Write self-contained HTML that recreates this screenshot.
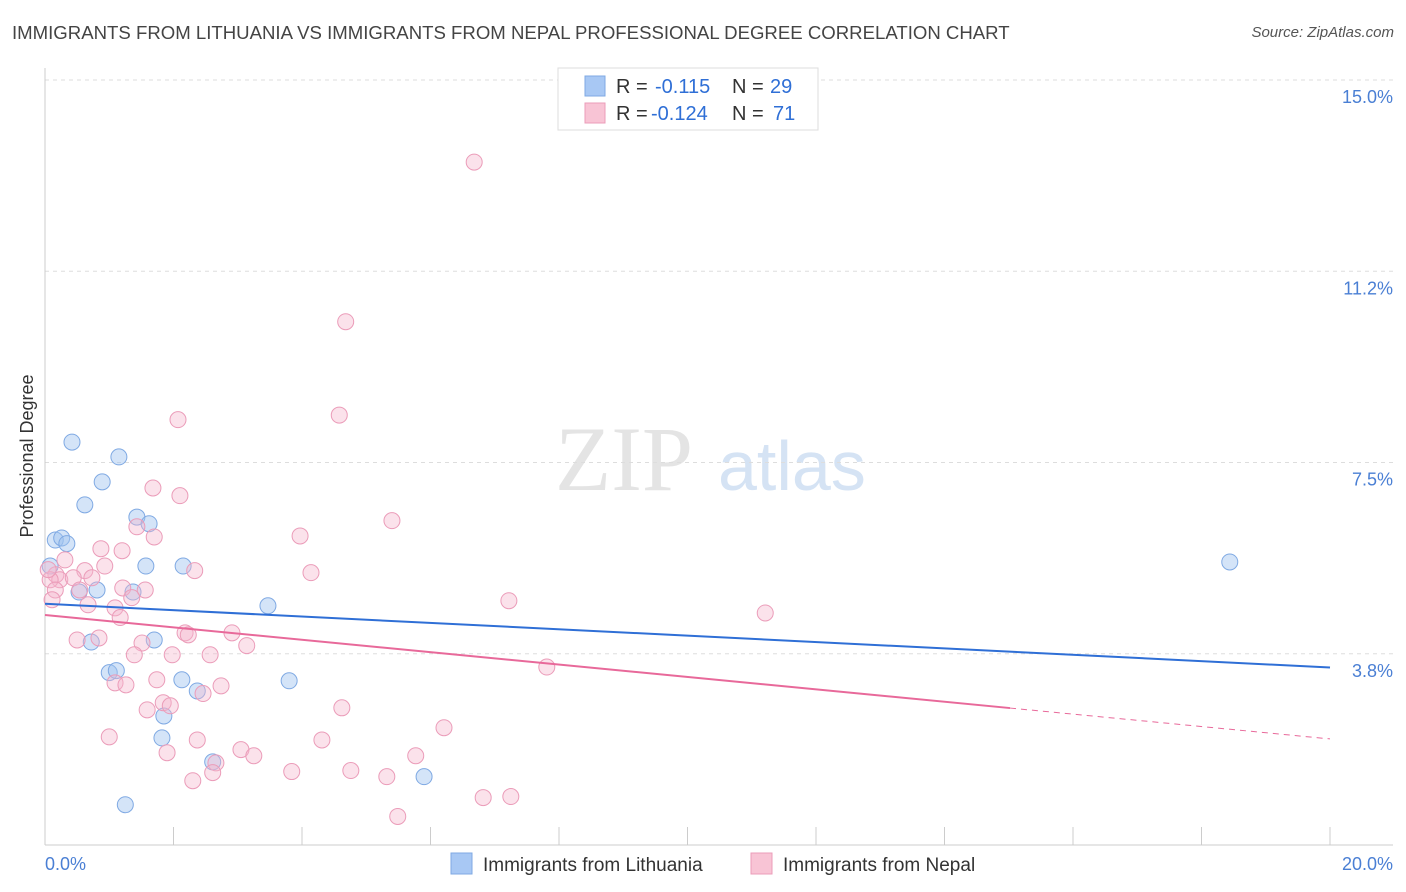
<!DOCTYPE html>
<html><head><meta charset="utf-8"><style>
body{margin:0;background:#fff;font-family:"Liberation Sans",sans-serif;}
#wrap{position:relative;width:1406px;height:892px;overflow:hidden;}
.title{position:absolute;left:12px;top:22px;font-size:18.6px;color:#444;}
.source{position:absolute;right:12px;top:24px;font-size:15px;color:#555;font-style:italic;}
</style></head><body>
<div id="wrap">
<div class="title">IMMIGRANTS FROM LITHUANIA VS IMMIGRANTS FROM NEPAL PROFESSIONAL DEGREE CORRELATION CHART</div>
<div class="source">Source: ZipAtlas.com</div>
<svg id="svg" width="1406" height="892" style="position:absolute;left:0;top:0"></svg>
</div>
<script>
const xTicks=[0,2,4,6,8,10,12,14,16,18,20];
const yTicks=[3.8,7.5,11.2,15.0];
const yTickVals=[3.75,7.5,11.25,15];
const blueX=[0.42,1.15,0.89,0.62,1.43,1.62,0.16,0.26,0.34,2.15,1.57,0.08,0.81,1.37,0.53,3.47,1.70,0.72,1.00,1.11,2.13,3.80,2.37,1.85,1.82,2.61,5.90,1.25,18.44];
const blueY=[7.90,7.61,7.12,6.67,6.43,6.30,5.98,6.02,5.91,5.47,5.47,5.47,5.00,4.96,4.96,4.69,4.02,3.98,3.38,3.42,3.24,3.22,3.02,2.53,2.10,1.63,1.34,0.79,5.55];
const pinkX=[6.68,4.68,2.07,4.58,1.68,2.10,5.40,3.97,1.43,1.70,1.20,0.87,0.31,0.93,2.33,0.62,0.17,0.23,0.08,0.44,0.73,4.14,1.21,1.56,0.16,0.54,1.35,7.22,11.21,0.67,1.09,1.17,2.18,2.23,2.91,0.50,0.84,1.51,3.14,1.98,2.57,1.39,7.81,1.74,1.09,1.26,2.74,2.46,1.84,1.95,1.59,4.62,6.21,1.00,2.37,4.31,1.90,3.05,3.25,5.77,2.66,2.61,3.84,4.76,5.32,2.30,6.82,7.25,5.49,0.05,0.11];
const pinkY=[13.39,10.26,8.34,8.43,7.00,6.85,6.36,6.06,6.24,6.04,5.77,5.81,5.59,5.47,5.38,5.38,5.30,5.20,5.20,5.24,5.24,5.34,5.04,5.00,5.00,5.00,4.85,4.79,4.55,4.71,4.65,4.46,4.16,4.12,4.16,4.02,4.06,3.96,3.91,3.73,3.73,3.73,3.49,3.24,3.18,3.14,3.12,2.97,2.79,2.73,2.65,2.69,2.30,2.12,2.06,2.06,1.81,1.87,1.75,1.75,1.61,1.42,1.44,1.46,1.34,1.26,0.93,0.95,0.56,5.40,4.81];
const blueTrend=[4.73,3.48];
const pinkTrend=[4.51,2.08];
const pinkSolidEnd=15.02;

const NS="http://www.w3.org/2000/svg";
const svg=document.getElementById('svg');
const X0=45,X1=1330,YT=80,YB=845;
const xs=v=>X0+v*(X1-X0)/20;
const ys=v=>YT+(15-v)*(YB-YT)/15;
function mk(t,a){const e=document.createElementNS(NS,t);for(const k in a)e.setAttribute(k,a[k]);svg.appendChild(e);return e;}

let w=mk('text',{x:555,y:490,'font-size':92,fill:'#e4e4e4','font-family':'Liberation Serif,serif'});w.textContent='ZIP';


let w2=mk('text',{x:718,y:490,'font-size':70,fill:'#d5e3f4','font-family':'Liberation Sans,sans-serif'});w2.textContent='atlas';



yTickVals.forEach((v,i)=>{
 const g=mk('line',{x1:X0,x2:1393,y1:ys(v),y2:ys(v),stroke:'#ddd','stroke-dasharray':'4,4'});
 
 
 const t=mk('text',{x:1393,y:ys(v)+23,'text-anchor':'end','font-size':18,fill:'#4a7fd4'});t.textContent=yTicks[i].toFixed(1)+'%';
 
 
});
let ax=mk('line',{x1:X0,x2:X0,y1:68,y2:YB,stroke:'#ccc'});


let bx=mk('line',{x1:X0,x2:1393,y1:YB,y2:YB,stroke:'#ccc'});


xTicks.forEach(v=>{
 const l=mk('line',{x1:xs(v),x2:xs(v),y1:YB,y2:YB-18,stroke:'#ccc'});
 
 
});
let xl=mk('text',{x:45,y:870,'font-size':18,fill:'#4a7fd4'});xl.textContent='0.0%';


let xr=mk('text',{x:1393,y:870,'text-anchor':'end','font-size':18,fill:'#4a7fd4'});xr.textContent='20.0%';


let yt=mk('text',{x:33,y:456,'font-size':18,fill:'#333','text-anchor':'middle',transform:'rotate(-90 33 456)'});yt.textContent='Professional Degree';



blueX.forEach((v,i)=>{
 const c=mk('circle',{cx:xs(v),cy:ys(blueY[i]),r:8,fill:'rgba(160,196,240,0.45)',stroke:'#7fa9e3','stroke-width':1});
 
 
});
pinkX.forEach((v,i)=>{
 const c=mk('circle',{cx:xs(v),cy:ys(pinkY[i]),r:8,fill:'rgba(244,182,204,0.4)',stroke:'#eb9cb9','stroke-width':1});
 
 
});
let bt=mk('line',{x1:xs(0),y1:ys(blueTrend[0]),x2:xs(20),y2:ys(blueTrend[1]),stroke:'#2f6fd6','stroke-width':2});


const pAt=v=>pinkTrend[0]+(pinkTrend[1]-pinkTrend[0])*v/20;
let pt=mk('line',{x1:xs(0),y1:ys(pinkTrend[0]),x2:xs(pinkSolidEnd),y2:ys(pAt(pinkSolidEnd)),stroke:'#e8699a','stroke-width':2});


let pd=mk('line',{x1:xs(pinkSolidEnd),y1:ys(pAt(pinkSolidEnd)),x2:xs(20),y2:ys(pinkTrend[1]),stroke:'#e8699a','stroke-width':1,'stroke-dasharray':'6,5'});



let lb=mk('rect',{x:558,y:68,width:260,height:62,fill:'#fff',stroke:'#ddd'});


[[['#a8c8f4','#7fa9e3'],'-0.115','29',86,770],[['#f8c4d5','#eb9cb9'],'-0.124','71',113,773]].forEach(r=>{
 const s=mk('rect',{x:585,y:r[3]-10,width:20,height:20,fill:r[0][0],stroke:r[0][1]});
 
 
 const a=mk('text',{x:616,y:r[3]+7,'font-size':20,fill:'#333'});a.textContent='R =';
 
 
 const b=mk('text',{x:r[1]==='-0.115'?655:651,y:r[3]+7,'font-size':20,fill:'#2f6fd6'});b.textContent=r[1];
 
 
 const c=mk('text',{x:732,y:r[3]+7,'font-size':20,fill:'#333'});c.textContent='N =';
 
 
 const d=mk('text',{x:r[4],y:r[3]+7,'font-size':20,fill:'#2f6fd6'});d.textContent=r[2];
 
 
});
[[451,'#a8c8f4','#7fa9e3','Immigrants from Lithuania'],[751,'#f8c4d5','#eb9cb9','Immigrants from Nepal']].forEach(r=>{
 const s=mk('rect',{x:r[0],y:853,width:21,height:21,fill:r[1],stroke:r[2]});
 
 
 const t=mk('text',{x:r[0]+32,y:871,'font-size':19,fill:'#333'});t.textContent=r[3];
 
 
});
</script>
</body></html>
